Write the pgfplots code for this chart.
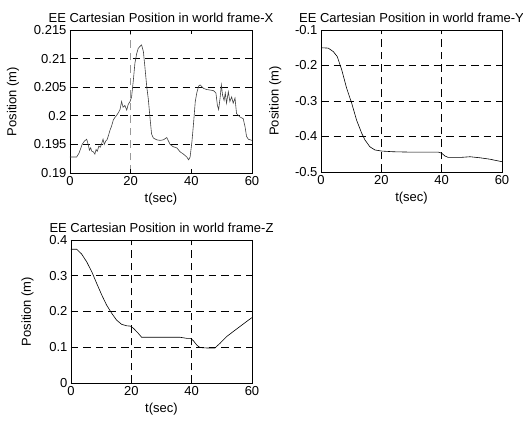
\documentclass[border=0pt]{standalone}
\usepackage{fontspec}
\setmainfont{Liberation Sans}
\usepackage{pgfplots}
\pgfplotsset{compat=1.18}
\pgfplotsset{
  myax/.style={
    scale only axis,
    anchor=south west,
    xmin=0, xmax=60,
    xtick={0,20,40,60},
    tick align=inside,
    tick pos=both,
    major tick length=4pt,
    axis line style={line width=0.7pt},
    every tick/.style={black, line width=0.6pt},
    /pgf/number format/assume math mode=true,
    font=\fontsize{13}{15}\selectfont,
    tick label style={font=\fontsize{13}{15}\selectfont},
    label style={font=\fontsize{13}{15}\selectfont},
    title style={font=\fontsize{13}{15}\selectfont, yshift=-2pt},
    xlabel={t(sec)},
    ylabel={Position (m)},
    ylabel style={yshift=3pt},
    grid style={black, dash pattern=on 7.5pt off 5pt, line width=0.6pt},
    scaled ticks=false,
  },
}
\begin{document}
\begin{tikzpicture}
\useasboundingbox (0,0) rectangle (523pt,421pt);
% X
\begin{axis}[myax, at={(70pt,248pt)}, width=182pt, height=143pt,
  ymin=0.19, ymax=0.215,
  ytick={0.19,0.195,0.2,0.205,0.21,0.215},
  yticklabels={0.19,0.195,0.2,0.205,0.21,0.215},
  ymajorgrids,
  ylabel style={yshift=5pt},
  extra x ticks={20}, extra x tick labels={},
  extra x tick style={grid=major, major grid style={gray!80, dash pattern=on 7.5pt off 5pt, line width=0.6pt}},
  title={EE Cartesian Position in world frame-X}]
\addplot[gray!50!black, line width=0.6pt] coordinates {
(0,0.1928) (2.2,0.1928) (3.0,0.1935) (4.0,0.1950) (4.8,0.1956) (5.5,0.1959)
(6.0,0.1950) (6.4,0.1940) (6.8,0.1944) (7.2,0.1938) (7.7,0.1937) (8.2,0.1933)
(8.6,0.1941) (9.0,0.1938) (9.5,0.1947) (10.0,0.1945) (10.4,0.1951) (10.9,0.1959)
(11.3,0.1950) (11.8,0.1956) (12.2,0.1958) (12.7,0.1966) (13.2,0.1975) (13.7,0.1982)
(14.3,0.1993) (14.8,0.1997) (15.4,0.2001) (16.0,0.2006) (16.5,0.2011) (17.0,0.2025)
(17.5,0.2015) (18.1,0.2018) (18.7,0.2010) (19.2,0.2020) (19.8,0.2025) (20.3,0.2033)
(20.9,0.2063) (21.4,0.2092) (22.0,0.2109) (22.5,0.2118) (23.0,0.2121) (23.6,0.2124)
(24.2,0.2112) (24.7,0.2085) (25.3,0.2051) (25.8,0.2030) (26.4,0.1995) (26.9,0.1968)
(27.5,0.1961) (28.6,0.1958) (29.7,0.1957) (30.8,0.1958) (31.9,0.1962) (33.0,0.1950)
(34.0,0.1946) (35.2,0.1944) (36.3,0.1937) (37.4,0.1933) (38.5,0.1928) (39.1,0.1923)
(39.6,0.1928) (40.2,0.1955) (40.7,0.1985) (41.3,0.2025) (41.8,0.2040) (42.4,0.2052)
(42.9,0.2054) (44.0,0.2048) (45.0,0.2046) (46.2,0.2045) (47.3,0.2044) (48.1,0.2040)
(48.6,0.2018) (49.0,0.2011) (49.5,0.2032) (49.9,0.2054) (50.3,0.2036) (50.8,0.2027)
(51.2,0.2040) (51.6,0.2022) (52.2,0.2042) (52.7,0.2025) (53.3,0.2033) (53.8,0.2022)
(54.4,0.2031) (54.9,0.2004) (56.0,0.1998) (57.1,0.1995) (57.7,0.1981) (58.2,0.1964)
(58.8,0.1959) (60,0.1957)
};
\end{axis}
% Y
\begin{axis}[myax, at={(321pt,249pt)}, width=181pt, height=142pt,
  ymin=-0.5, ymax=-0.1,
  ytick={-0.5,-0.4,-0.3,-0.2,-0.1},
  yticklabels={-0.5,-0.4,-0.3,-0.2,-0.1},
  grid=major,
  ylabel style={yshift=4pt},
  title={EE Cartesian Position in world frame-Y}]
\addplot[black, line width=0.6pt] coordinates {
(0,-0.150) (2.4,-0.151) (4.1,-0.161) (5.4,-0.175) (6.9,-0.213) (8.5,-0.264)
(10.2,-0.307) (11.8,-0.354) (13.5,-0.391) (14.6,-0.410) (16.2,-0.429) (17.9,-0.438)
(20.1,-0.441) (24.0,-0.443) (29.5,-0.444) (35.0,-0.444) (38.9,-0.444) (40.0,-0.447)
(41.1,-0.455) (42.2,-0.459) (46.1,-0.459) (49.4,-0.457) (52.7,-0.460) (56.0,-0.464)
(60,-0.471)
};
\end{axis}
% Z
\begin{axis}[myax, at={(71pt,38pt)}, width=181pt, height=143pt,
  ymin=0, ymax=0.4,
  ytick={0,0.1,0.2,0.3,0.4},
  yticklabels={0,0.1,0.2,0.3,0.4},
  grid=major,
  ylabel style={yshift=6pt},
  title={EE Cartesian Position in world frame-Z}]
\addplot[black, line width=0.6pt] coordinates {
(0,0.374) (1.9,0.374) (3.5,0.361) (5.2,0.339) (6.9,0.311) (8.5,0.279)
(10.2,0.246) (11.8,0.218) (13.5,0.195) (15.1,0.176) (16.8,0.164) (18.5,0.160)
(19.8,0.159) (20.7,0.153) (22.3,0.139) (23.4,0.128) (29.5,0.128) (36.1,0.128)
(38.3,0.125) (39.7,0.125) (40.6,0.118) (41.7,0.106) (42.8,0.099) (45.0,0.098)
(47.7,0.098) (49.4,0.111) (51.6,0.130) (53.8,0.144) (56.0,0.158) (58.2,0.172)
(60,0.183)
};
\end{axis}
\end{tikzpicture}
\end{document}
